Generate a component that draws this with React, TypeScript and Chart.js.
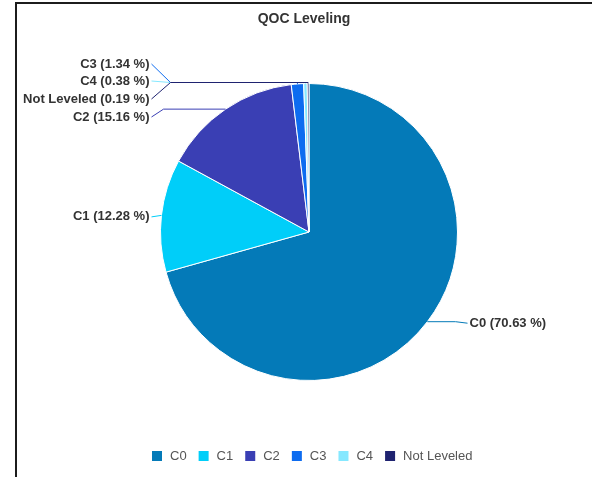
import React, { useEffect, useRef } from "react";
import { Chart, registerables } from "chart.js";

Chart.register(...registerables);

const categories = ["C0", "C1", "C2", "C3", "C4", "Not Leveled"];
const percentages = [70.63, 12.28, 15.16, 1.34, 0.38, 0.19];
const colors = ["#047ab8", "#00cef9", "#3a3fb4", "#0d6cf0", "#86e8ff", "#1f2370"];
const titleText = "QOC Leveling";

const FONT = '"Liberation Sans", Arial, sans-serif';

// label layout (vertical offsets from pie centre for stacked left labels)
const stackedLabelOffsets: Record<string, number> = {
  C3: -168,
  C4: -151,
  "Not Leveled": -133,
  C2: -115,
};
const clusterLabels = ["C3", "C4", "Not Leveled"];

const overlayPlugin = {
  id: "overlay",
  afterDraw(chart: any) {
    const ctx: CanvasRenderingContext2D = chart.ctx;
    const meta = chart.getDatasetMeta(0);
    const arcs = meta.data;
    if (!arcs.length) return;
    const cx = arcs[0].x;
    const cy = arcs[0].y;
    const r = arcs[0].outerRadius;

    // title
    ctx.save();
    ctx.fillStyle = "#333";
    ctx.font = `bold 14px ${FONT}`;
    ctx.textAlign = "center";
    ctx.textBaseline = "middle";
    ctx.fillText(titleText, 304, 19);
    ctx.restore();

    // labels & leader lines
    arcs.forEach((arc: any, i: number) => {
      const mid = (arc.startAngle + arc.endAngle) / 2;
      const ax = cx + r * Math.cos(mid);
      const ay = cy + r * Math.sin(mid);
      const name = categories[i];
      const text = `${name} (${percentages[i].toFixed(2)} %)`;
      const right = Math.cos(mid) >= 0;
      let ly = ay + 1.5;
      if (stackedLabelOffsets[name] !== undefined) ly = cy + stackedLabelOffsets[name];
      ctx.save();
      ctx.strokeStyle = colors[i];
      ctx.lineWidth = 1;
      ctx.beginPath();
      if (right) {
        const tx = cx + r + 12;
        ctx.moveTo(ax, ay);
        ctx.lineTo(tx - 14, ay);
        ctx.lineTo(tx - 2, ly);
        ctx.stroke();
        ctx.fillStyle = "#333";
        ctx.font = `bold 13px ${FONT}`;
        ctx.textAlign = "left";
        ctx.textBaseline = "middle";
        ctx.fillText(text, tx, ly);
      } else {
        const tx = cx - r - 11;
        if (clusterLabels.includes(name)) {
          const jy = cy - r - 1;
          const jx = cx - r + 10;
          ctx.moveTo(tx + 2, ly);
          ctx.lineTo(jx, jy);
          ctx.lineTo(ax, jy);
          ctx.lineTo(ax, ay);
        } else {
          ctx.moveTo(tx + 2, ly);
          ctx.lineTo(Math.min(tx + 14, ax), ay);
          ctx.lineTo(ax, ay);
        }
        ctx.stroke();
        ctx.fillStyle = "#333";
        ctx.font = `bold 13px ${FONT}`;
        ctx.textAlign = "right";
        ctx.textBaseline = "middle";
        ctx.fillText(text, tx, ly);
      }
      ctx.restore();
    });

    // legend
    ctx.save();
    ctx.font = `13px ${FONT}`;
    ctx.textBaseline = "middle";
    ctx.textAlign = "left";
    let x = 152;
    const y = 456;
    const box = 10;
    categories.forEach((c, i) => {
      ctx.fillStyle = colors[i];
      ctx.fillRect(x, y - box / 2, box, box);
      x += box + 8;
      ctx.fillStyle = "#555";
      ctx.fillText(c, x, y + 0.5);
      x += ctx.measureText(c).width + 12;
    });
    ctx.restore();
  },
};

export default function App() {
  const ref = useRef<HTMLCanvasElement | null>(null);
  useEffect(() => {
    if (!ref.current) return;
    const chart = new Chart(ref.current, {
      type: "pie",
      data: {
        labels: categories,
        datasets: [
          {
            data: percentages,
            backgroundColor: colors,
            borderColor: "#ffffff",
            borderWidth: 1,
          },
        ],
      },
      options: {
        responsive: false,
        animation: false,
        devicePixelRatio: 1,
        layout: { padding: { left: 160, right: 134, top: 83, bottom: 96 } },
        plugins: {
          legend: { display: false },
          title: { display: false },
          tooltip: { enabled: false },
        },
      },
      plugins: [overlayPlugin],
    });
    return () => chart.destroy();
  }, []);
  return (
    <div style={{ position: "absolute", left: 0, top: 0, width: 592, height: 477, background: "#fff" }}>
      <canvas ref={ref} width={592} height={477} style={{ position: "absolute", left: 0, top: 0 }} />
      <div
        style={{
          position: "absolute",
          left: 15,
          top: 2,
          width: 577,
          height: 475,
          borderLeft: "2px solid #1c1c1c",
          borderTop: "2px solid #1c1c1c",
          boxSizing: "border-box",
          pointerEvents: "none",
        }}
      />
    </div>
  );
}
